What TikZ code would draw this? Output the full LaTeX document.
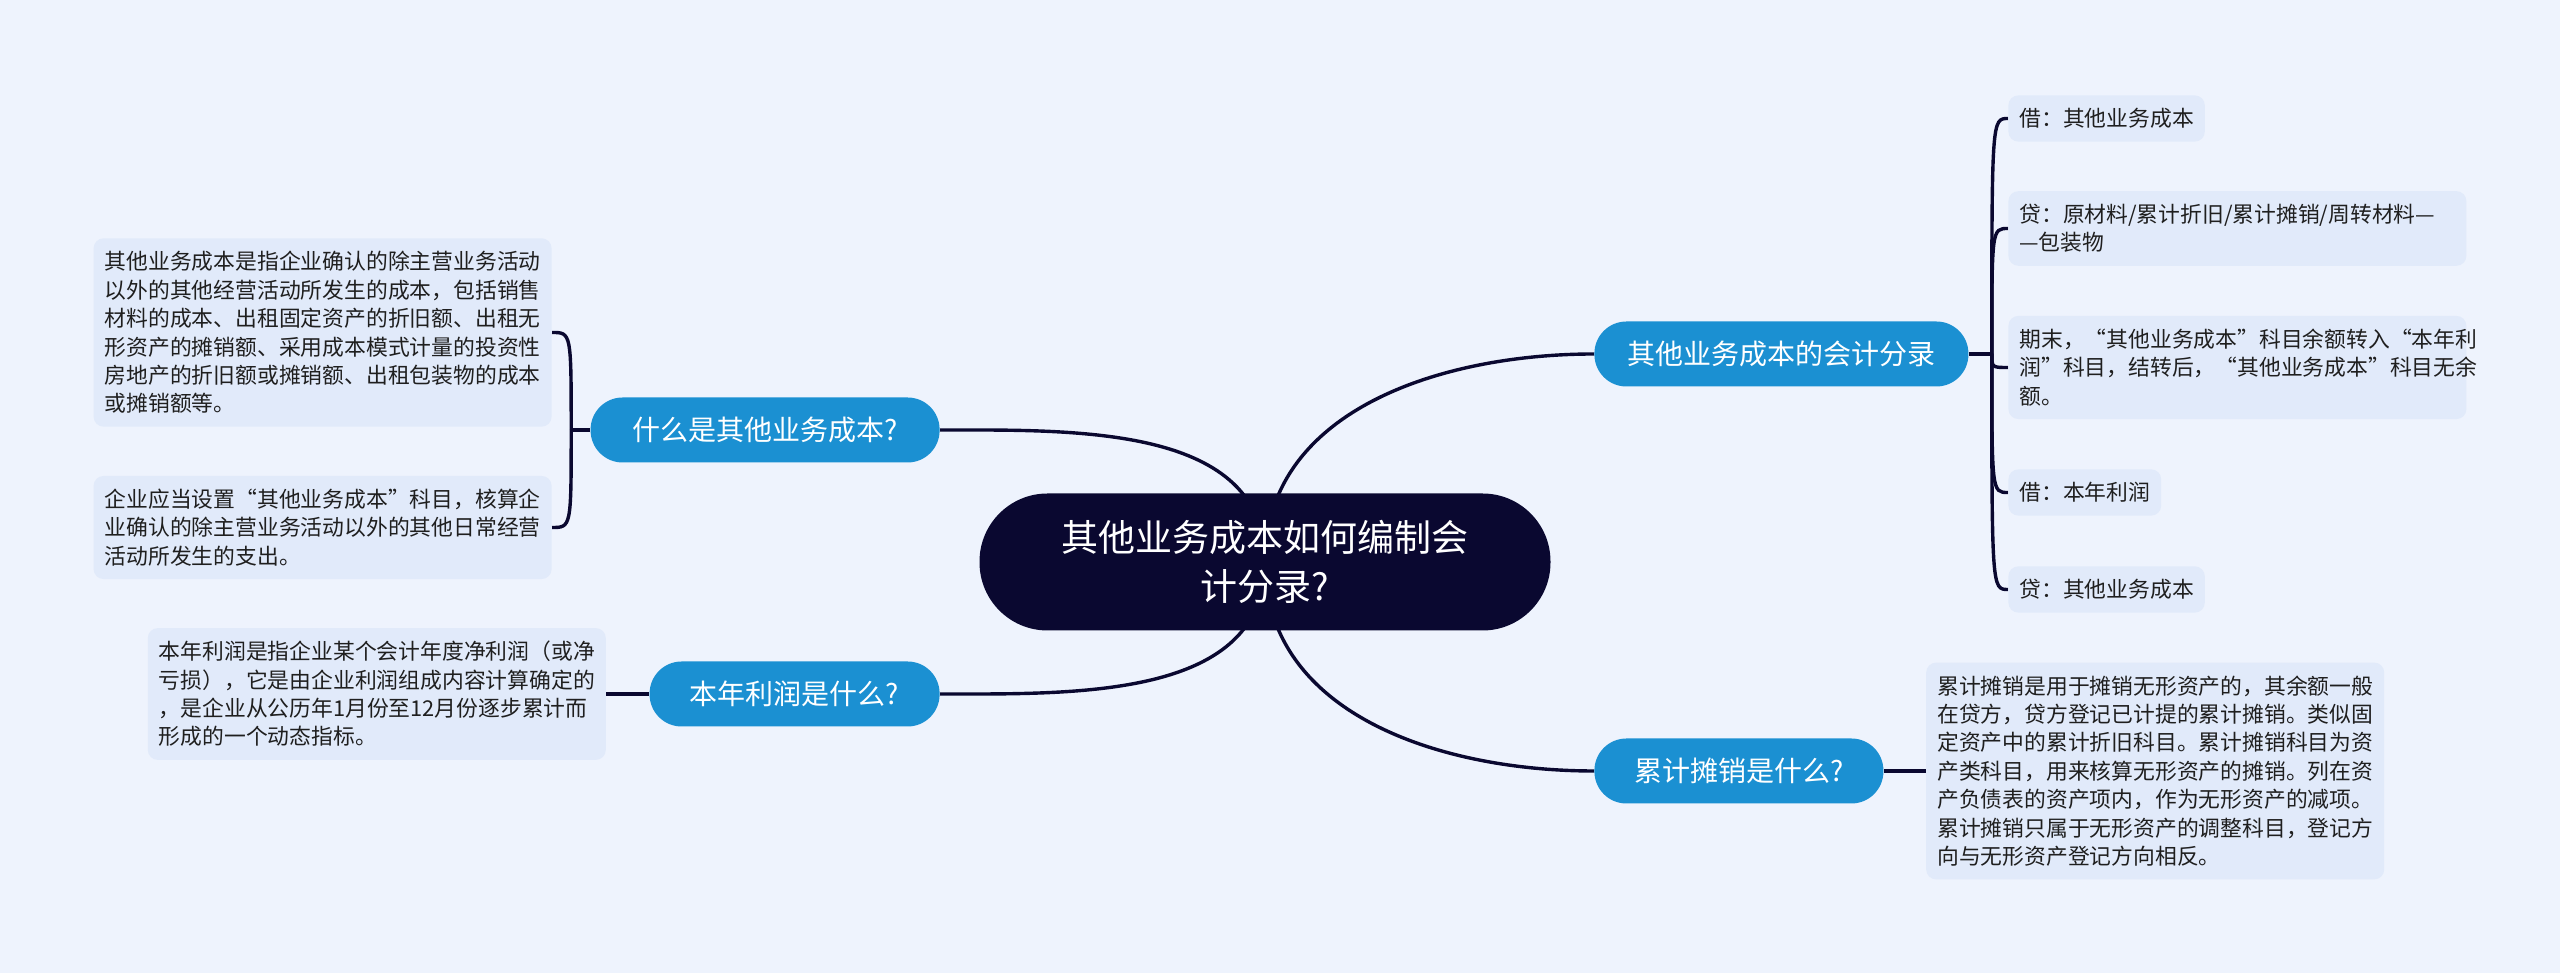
\documentclass[tikz,border=0pt]{standalone}
\usepackage{fontspec}
\setmainfont{Noto Sans CJK SC}
\usepackage{xcolor}
\usetikzlibrary{positioning,backgrounds}
\definecolor{bgblue}{HTML}{EEF3FD}
\definecolor{leafblue}{HTML}{E1EAFA}
\definecolor{topicblue}{HTML}{1B90D2}
\definecolor{rootnavy}{HTML}{0A0830}
\definecolor{leaftext}{HTML}{1F1F1F}

\begin{document}
\begin{tikzpicture}
    % Stili
    \tikzstyle{mainnode}=[rectangle, rounded corners=34pt, minimum width=285.5pt, minimum height=68.5pt, align=center, fill=rootnavy, text=white, font=\fontsize{18.5pt}{24.5pt}\selectfont]
    \tikzstyle{topicnode}=[rectangle, rounded corners=16pt, minimum height=32.5pt, align=center, fill=topicblue, text=white, font=\fontsize{14pt}{17pt}\selectfont]
    \tikzstyle{leafnode}=[rectangle, rounded corners=5pt, inner xsep=5.5pt, inner ysep=6.5pt, align=left, fill=leafblue, text=leaftext, font=\fontsize{10.9pt}{14.2pt}\selectfont]
    \tikzstyle{wideleaf}=[leafnode, text width=218pt]
    \tikzstyle{conn}=[draw=rootnavy, line width=1.7pt]

    \useasboundingbox (0,0) rectangle (1280pt,486.5pt);

    % Nodi
    \node (mm) [mainnode] at (632.5pt,205.5pt) {其他业务成本如何编制会\\计分录?};
    \node (b1) [topicnode, minimum width=174.5pt, anchor=east] at (470pt,271.5pt) {什么是其他业务成本?};
    \node (b2) [topicnode, minimum width=145pt, anchor=east] at (470pt,139.5pt) {本年利润是什么?};
    \node (b3) [topicnode, minimum width=187pt, anchor=west] at (797pt,309.5pt) {其他业务成本的会计分录};
    \node (b4) [topicnode, minimum width=144.5pt, anchor=west] at (797pt,101pt) {累计摊销是什么?};

    \node (l1) [wideleaf, anchor=east] at (276pt,320.25pt) {其他业务成本是指企业确认的除主营业务活动\\以外的其他经营活动所发生的成本，包括销售\\材料的成本、出租固定资产的折旧额、出租无\\形资产的摊销额、采用成本模式计量的投资性\\房地产的折旧额或摊销额、出租包装物的成本\\或摊销额等。};
    \node (l2) [wideleaf, anchor=east] at (276pt,222.75pt) {企业应当设置“其他业务成本”科目，核算企\\业确认的除主营业务活动以外的其他日常经营\\活动所发生的支出。};
    \node (l3) [wideleaf, left=21.5pt of b2] {本年利润是指企业某个会计年度净利润（或净\\亏损），它是由企业利润组成内容计算确定的\\，是企业从公历年1月份至12月份逐步累计而\\形成的一个动态指标。};

    \node (r1) [leafnode, anchor=west] at (1004pt,427.25pt) {借：其他业务成本};
    \node (r2) [wideleaf, anchor=west] at (1004pt,372.25pt) {贷：原材料/累计折旧/累计摊销/周转材料—\\—包装物};
    \node (r3) [wideleaf, anchor=west] at (1004pt,302.75pt) {期末，“其他业务成本”科目余额转入“本年利\\润”科目，结转后，“其他业务成本”科目无余\\额。};
    \node (r4) [leafnode, anchor=west] at (1004pt,240.25pt) {借：本年利润};
    \node (r5) [leafnode, anchor=west] at (1004pt,191.75pt) {贷：其他业务成本};
    \node (r6) [wideleaf, right=21pt of b4] {累计摊销是用于摊销无形资产的，其余额一般\\在贷方，贷方登记已计提的累计摊销。类似固\\定资产中的累计折旧科目。累计摊销科目为资\\产类科目，用来核算无形资产的摊销。列在资\\产负债表的资产项内，作为无形资产的减项。\\累计摊销只属于无形资产的调整科目，登记方\\向与无形资产登记方向相反。};

    \coordinate [left=9.5pt of b1] (lj);
    \coordinate [right=11.5pt of b3] (rj);

    % Collegamenti
    \begin{scope}[on background layer]
        \fill [bgblue] (0,0) rectangle (1280pt,486.5pt);
        \draw [conn] (mm.center) to[out=90, in=0] (b1.east);
        \draw [conn] (mm.center) to[out=270, in=0] (b2.east);
        \draw [conn] (mm.center) to[out=90, in=180] (b3.west);
        \draw [conn] (mm.center) to[out=270, in=180] (b4.west);

        \draw [conn] (b1.west) -- (lj);
        \draw [conn] (lj) .. controls (lj |- l1.east) .. (l1.east);
        \draw [conn] (lj) .. controls (lj |- l2.east) .. (l2.east);
        \draw [conn] (b2.west) -- (l3.east);

        \draw [conn] (b3.east) -- (rj);
        \foreach \leaf in {r1,r2,r3,r4,r5}
            \draw [conn] (rj) .. controls (rj |- \leaf.west) .. (\leaf.west);
        \draw [conn] (b4.east) -- (r6.west);
    \end{scope}

\end{tikzpicture}
\end{document}
